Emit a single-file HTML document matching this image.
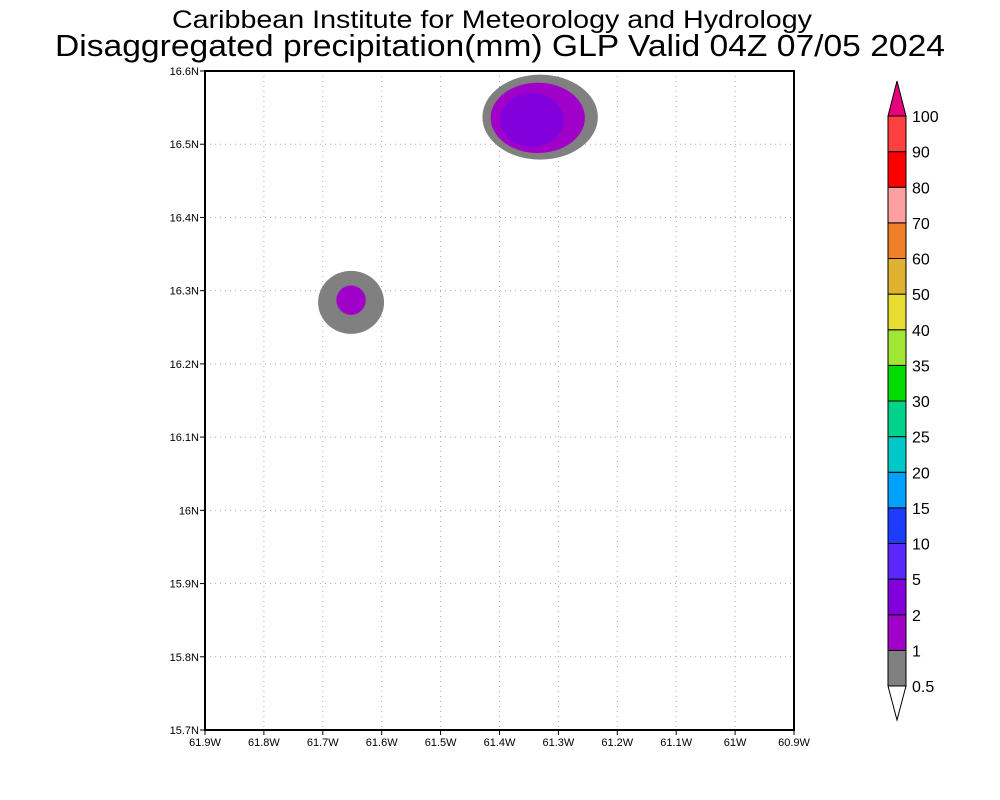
<!DOCTYPE html>
<html><head><meta charset="utf-8"><style>body{margin:0;background:#fff}svg{display:block}</style></head>
<body>
<svg id="chart" width="1000" height="800" xmlns="http://www.w3.org/2000/svg" font-family="Liberation Sans, sans-serif">
<text x="492" y="28" text-anchor="middle" font-size="25" textLength="640" lengthAdjust="spacingAndGlyphs">Caribbean Institute for Meteorology and Hydrology</text>
<text x="500" y="56" text-anchor="middle" font-size="31" textLength="890" lengthAdjust="spacingAndGlyphs">Disaggregated precipitation(mm) GLP Valid 04Z 07/05 2024</text>
<g id="grid"></g>
<g id="blobs"></g>
<rect x="205" y="71" width="589" height="659" fill="none" stroke="#000" stroke-width="2"/>
<g id="axes" font-size="11"></g>
<g id="cbar" font-size="16"></g>
</svg>
<script>
const lonTicks=[-61.9,-61.8,-61.7,-61.6,-61.5,-61.4,-61.3,-61.2,-61.1,-61.0,-60.9];
const lonLabels=["61.9W","61.8W","61.7W","61.6W","61.5W","61.4W","61.3W","61.2W","61.1W","61W","60.9W"];
const latTicks=[15.7,15.8,15.9,16.0,16.1,16.2,16.3,16.4,16.5,16.6];
const latLabels=["15.7N","15.8N","15.9N","16N","16.1N","16.2N","16.3N","16.4N","16.5N","16.6N"];
// contour blobs: lon, lat, radius lon (deg), radius lat (deg), level index
const blobLon=[-61.331,-61.335,-61.345,-61.652,-61.652];
const blobLat=[16.537,16.536,16.533,16.284,16.287];
const blobRx=[0.098,0.080,0.054,0.056,0.025];
const blobRy=[0.058,0.048,0.037,0.043,0.020];
const blobLevel=[0,1,2,0,1];
const cbarLabels=["0.5","1","2","5","10","15","20","25","30","35","40","50","60","70","80","90","100"];
const cbarColors=["#808080","#a000c8","#8200dc","#5a28ff","#1e3cff","#00a0ff","#00c8c8","#00d28c","#00dc00","#a0e632","#e6dc32","#e0b030","#f08028","#ffa0a0","#ff0000","#ff4040"];
const overColor="#e6007e";
const NS="http://www.w3.org/2000/svg";
const X0=205,X1=794,Y0=730,Y1=71;
const xs=l=>X0+(l+61.9)/1.0*(X1-X0);
const ys=l=>Y0-(l-15.7)/0.9*(Y0-Y1);
function mk(tag,attrs,parent){const e=document.createElementNS(NS,tag);for(const k in attrs)e.setAttribute(k,attrs[k]);parent.appendChild(e);return e;}
const grid=document.getElementById('grid'),axes=document.getElementById('axes'),blobs=document.getElementById('blobs'),cbar=document.getElementById('cbar');
lonTicks.forEach((t,i)=>{const x=xs(t);
 if(i>0&&i<lonTicks.length-1){const g=mk('line',{x1:x,x2:x,y1:Y1,y2:Y0,stroke:'#aaa','stroke-dasharray':'1,4'},grid);}
 const tk=mk('line',{x1:x,x2:x,y1:Y0,y2:Y0+5,stroke:'#000'},axes);
 const tx=mk('text',{x:x,y:Y0+16,'text-anchor':'middle'},axes);tx.textContent=lonLabels[i];});
latTicks.forEach((t,i)=>{const y=ys(t);
 if(i>0&&i<latTicks.length-1){const g=mk('line',{x1:X0,x2:X1,y1:y,y2:y,stroke:'#aaa','stroke-dasharray':'1,4'},grid);}
 const tk=mk('line',{x1:X0-5,x2:X0,y1:y,y2:y,stroke:'#000'},axes);
 const tx=mk('text',{x:X0-6,y:y+4,'text-anchor':'end'},axes);tx.textContent=latLabels[i];});
const pxLon=(X1-X0)/1.0,pxLat=(Y0-Y1)/0.9;
blobLon.forEach((l,i)=>{const e=mk('ellipse',{cx:xs(l),cy:ys(blobLat[i]),rx:blobRx[i]*pxLon,ry:blobRy[i]*pxLat,fill:cbarColors[blobLevel[i]]},blobs);
 });
// colorbar
const CX=888,CW=18,CB=686,CT=116,bh=(CB-CT)/cbarColors.length;
cbarColors.forEach((c,i)=>{const r=mk('rect',{x:CX,y:CB-(i+1)*bh,width:CW,height:bh,fill:c,stroke:'#000','stroke-width':1},cbar);
 });
const up=mk('polygon',{points:`${CX},${CT} ${CX+CW},${CT} ${CX+CW/2},${CT-35}`,fill:overColor,stroke:'#000'},cbar);

const dn=mk('polygon',{points:`${CX},${CB} ${CX+CW},${CB} ${CX+CW/2},${CB+34}`,fill:'#fff',stroke:'#000'},cbar);

cbarLabels.forEach((s,i)=>{const t=mk('text',{x:CX+24,y:CB-i*bh+6},cbar);t.textContent=s;
 });
</script>
</body></html>
